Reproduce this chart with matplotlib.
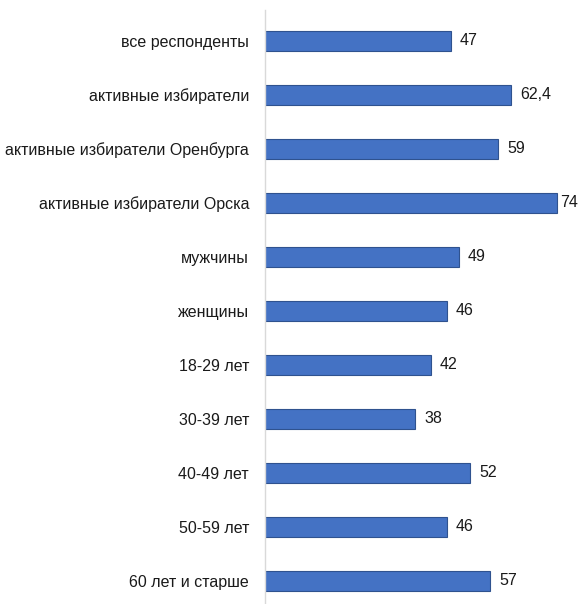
import matplotlib.pyplot as plt

categories = [
    "все респонденты",
    "активные избиратели",
    "активные избиратели Оренбурга",
    "активные избиратели Орска",
    "мужчины",
    "женщины",
    "18-29 лет",
    "30-39 лет",
    "40-49 лет",
    "50-59 лет",
    "60 лет и старше",
]
values = [47, 62.4, 59, 74, 49, 46, 42, 38, 52, 46, 57]
value_labels = ["47", "62,4", "59", "74", "49", "46", "42", "38", "52", "46", "57"]

plt.rcParams["font.family"] = ["Liberation Sans", "DejaVu Sans"]

fig = plt.figure(figsize=(5.82, 6.04), dpi=100)
ax = fig.add_axes([265 / 582, 0, 316 / 582, 594 / 604])

pos = list(range(len(categories)))
ax.barh(pos, values, height=0.37, color="#4472C4", edgecolor="#2F528F", linewidth=0.8)

for y, v, lab in zip(pos, values, value_labels):
    # the longest bar leaves little room before the edge
    off = 2 if v > 70 else 6.5
    ax.annotate(lab, (v, y), xytext=(off, 0), textcoords="offset points",
                va="center", ha="left", fontsize=11.5, color="#1a1a1a",
                annotation_clip=False)

ax.set_xlim(0, 80)
ax.set_ylim(10.43, -0.574)
ax.set_yticks(pos)
ax.set_yticklabels(categories, fontsize=11.5, color="#1a1a1a")
ax.tick_params(axis="y", length=0, pad=11.5)
ax.set_xticks([])

for side in ["top", "right", "bottom"]:
    ax.spines[side].set_visible(False)
ax.spines["left"].set_color("#d9d9d9")
ax.spines["left"].set_linewidth(1)

fig.savefig("out.png", dpi=100)
